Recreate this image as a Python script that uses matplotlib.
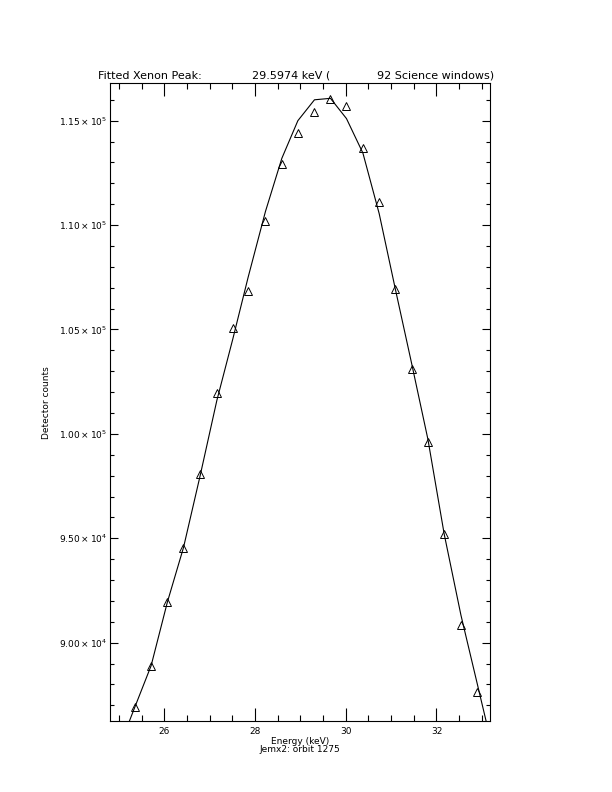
import numpy as np
import matplotlib
matplotlib.use('Agg')
import matplotlib.pyplot as plt
from matplotlib.ticker import MultipleLocator, FixedLocator, FixedFormatter

# measured counts (triangles)
energy = [25.354, 25.707, 26.066, 26.420, 26.788, 27.156, 27.509, 27.846,
          28.228, 28.590, 28.943, 29.309, 29.662, 30.015, 30.377, 30.736,
          31.096, 31.449, 31.810, 32.170, 32.539, 32.898]
counts = [86935, 88884, 91964, 94536, 98079, 101944, 105058, 106859,
          110211, 112912, 114425, 115431, 116039, 115718, 113678, 111121,
          106940, 103109, 99627, 95207, 90864, 87655]

# fitted curve
fit_energy = [24.997, 25.354, 25.707, 26.066, 26.420, 26.788, 27.156, 27.509,
              27.846, 28.228, 28.590, 28.943, 29.309, 29.662, 30.015, 30.377,
              30.736, 31.096, 31.449, 31.810, 32.170, 32.539, 32.898, 33.250]
fit_counts = [84960, 86950, 88900, 91950, 94550, 98000, 101600, 104550,
              107500, 110650, 113200, 115000, 116000, 116070, 115100, 113450,
              110550, 106900, 103400, 99750, 95200, 91320, 88040, 84820]

ytick_vals = [90000, 95000, 100000, 105000, 110000, 115000]
ytick_text = [r'$9.00\times10^{4}$', r'$9.50\times10^{4}$', r'$1.00\times10^{5}$',
              r'$1.05\times10^{5}$', r'$1.10\times10^{5}$', r'$1.15\times10^{5}$']

fig = plt.figure(figsize=(6.12, 7.92), dpi=100)
ax = fig.add_axes([110 / 612, 1 - 721 / 792, 380 / 612, (721 - 83.3) / 792])

ax.plot(fit_energy, fit_counts, color='black', lw=0.8)
ax.plot(energy, counts, linestyle='none', marker='^', markersize=5.5,
        markerfacecolor='none', markeredgecolor='black', markeredgewidth=0.7)

ax.set_xlim(24.80, 33.18)
ax.set_ylim(86250, 116790)

ax.xaxis.set_major_locator(MultipleLocator(2))
ax.xaxis.set_minor_locator(MultipleLocator(0.5))
ax.yaxis.set_major_locator(FixedLocator(ytick_vals))
ax.yaxis.set_major_formatter(FixedFormatter(ytick_text))
ax.yaxis.set_minor_locator(MultipleLocator(1000))

ax.tick_params(axis='both', which='both', direction='in', top=True, right=True,
               width=0.8, labelsize=6.5, color='black')
ax.tick_params(axis='x', which='major', length=9.2, pad=4)
ax.tick_params(axis='x', which='minor', length=4.6)
ax.tick_params(axis='y', which='major', length=5.5, pad=2)
ax.tick_params(axis='y', which='minor', length=2.7)
for s in ax.spines.values():
    s.set_linewidth(0.8)

ax.set_ylabel('Detector counts', fontsize=6.5, labelpad=6)
fig.text(300 / 612, 1 - 741 / 792, 'Energy (keV)', fontsize=6.5,
         ha='center', va='center')
fig.text(300 / 612, 1 - 750 / 792, 'Jemx2: orbit 1275', fontsize=6.5,
         ha='center', va='center')

# title pieces
ty = 1 - 76 / 792
fig.text(98 / 612, ty, 'Fitted Xenon Peak:', fontsize=8, ha='left', va='center')
fig.text(252 / 612, ty, '29.5974 keV (', fontsize=8, ha='left', va='center')
fig.text(377 / 612, ty, '92 Science windows)', fontsize=8, ha='left', va='center')

fig.savefig('out.png', dpi=100)
